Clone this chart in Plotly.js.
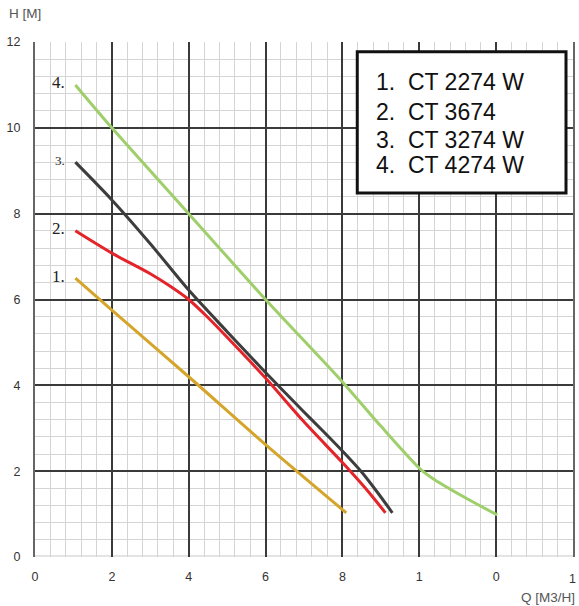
<!DOCTYPE html>
<html>
<head>
<meta charset="utf-8">
<script src="https://cdn.plot.ly/plotly-3.0.1.min.js"></script>
<style>
  html, body { margin: 0; padding: 0; background: #fff; }
  #chart { width: 579px; height: 606px; }
</style>
</head>
<body>
<div id="chart"></div>
<script>
// pump curves, H [M] vs Q [M3/H]
var names = ['CT 2274 W', 'CT 3674', 'CT 3274 W', 'CT 4274 W'];
var curveLabels = ['1.', '2.', '3.', '4.'];

var q1 = [1.05, 2, 4, 6, 8.1];
var h1 = [6.5, 5.75, 4.2, 2.62, 1.03];

var q2 = [1.05, 2, 3, 3.5, 4, 4.5, 5, 6, 7, 8, 8.6, 9.12];
var h2 = [7.6, 7.08, 6.6, 6.32, 6.0, 5.58, 5.12, 4.17, 3.15, 2.2, 1.6, 1.03];

var q3 = [1.05, 2, 3, 4, 5, 6, 7, 7.5, 8, 8.5, 8.9, 9.3];
var h3 = [9.2, 8.32, 7.3, 6.22, 5.25, 4.3, 3.38, 2.93, 2.47, 1.98, 1.52, 1.03];

var q4 = [1.05, 2, 4, 6, 8, 9, 10.05, 10.4, 11.2, 12.03];
var h4 = [11.0, 10.0, 8.0, 6.0, 4.08, 3.05, 2.03, 1.8, 1.38, 0.98];

var xTickVals = [0, 2, 4, 6, 8, 10, 12, 14];
var xTickText = ['0', '2', '4', '6', '8', '1', '0', '1'];
var yTickVals = [0, 2, 4, 6, 8, 10, 12];

var colors = ['#d4a52a', '#e3242b', '#3d3d3d', '#9fcf6a'];
var qs = [q1, q2, q3, q4];
var hs = [h1, h2, h3, h4];

var data = [];
for (var i = 0; i < qs.length; i++) {
    data.push({
        type: 'scatter',
        mode: 'lines',
        x: qs[i],
        y: hs[i],
        name: names[i],
        line: { color: colors[i], width: 3, shape: 'spline', smoothing: 0.8 },
        hoverinfo: 'skip'
    });
}

var annotations = [];
// number labels beside the start of each curve
for (var i = 0; i < qs.length; i++) {
    annotations.push({
        x: qs[i][0], y: hs[i][0], xref: 'x', yref: 'y',
        text: curveLabels[i], showarrow: false,
        xanchor: 'right', yanchor: 'middle', xshift: -8, yshift: 2,
        font: { family: 'Liberation Serif, DejaVu Serif, serif', size: i == 2 ? 13 : 17, color: '#222' }
    });
}
// legend box text
var legendY = [0.922, 0.864, 0.810, 0.761];
for (var i = 0; i < names.length; i++) {
    annotations.push({
        x: 0.631, y: legendY[i], xref: 'paper', yref: 'paper',
        text: curveLabels[i] + '&nbsp;&nbsp;' + names[i], showarrow: false,
        xanchor: 'left', yanchor: 'middle',
        font: { family: 'Liberation Sans, Arial, sans-serif', size: 23, color: '#111' }
    });
}
annotations.push({
    x: -0.052, y: 1.055, xref: 'paper', yref: 'paper', text: 'H [M]', showarrow: false,
    xanchor: 'left', yanchor: 'middle',
    font: { family: 'Liberation Sans, Arial, sans-serif', size: 13.5, color: '#555' }
});
annotations.push({
    x: 1.007, y: -0.078, xref: 'paper', yref: 'paper', text: 'Q [M3/H]', showarrow: false,
    xanchor: 'right', yanchor: 'middle',
    font: { family: 'Liberation Sans, Arial, sans-serif', size: 13.5, color: '#555' }
});
// the axis drops its last tick label at the right edge, so that one is placed on the axis value here
var last = xTickVals.length - 1;
annotations.push({
    x: xTickVals[last], y: 0, xref: 'x', yref: 'paper', text: xTickText[last],
    showarrow: false, xanchor: 'center', yanchor: 'top', yshift: -13,
    font: { family: 'Liberation Sans, Arial, sans-serif', size: 12.5, color: '#333' }
});

var layout = {
    width: 579, height: 606,
    margin: { l: 35, r: 6, t: 42, b: 49 },
    paper_bgcolor: '#fff',
    plot_bgcolor: '#fff',
    showlegend: false,
    font: { family: 'Liberation Sans, Arial, sans-serif', size: 12.5, color: '#333' },
    xaxis: {
        range: [0, 14.001], tickmode: 'array', tickvals: xTickVals.slice(0, last),
        ticktext: xTickText.slice(0, last),
        showgrid: true, gridcolor: '#3a3a3a', gridwidth: 2, zeroline: false,
        showline: false, ticks: '', ticklabelstandoff: 10,
        minor: { tickmode: 'linear', tick0: 0, dtick: 0.4, showgrid: true, gridcolor: '#d4d4d4', gridwidth: 1 }
    },
    yaxis: {
        range: [0, 12], tickmode: 'array', tickvals: yTickVals,
        showgrid: true, gridcolor: '#3a3a3a', gridwidth: 2, zeroline: false,
        showline: true, linecolor: '#666', linewidth: 2, mirror: true, ticks: '', ticklabelstandoff: 10,
        minor: { tickmode: 'linear', tick0: 0, dtick: 0.4, showgrid: true, gridcolor: '#d4d4d4', gridwidth: 1 }
    },
    shapes: [
        // bottom edge of the sheet is a light line, not a major one
        { type: 'line', xref: 'paper', yref: 'paper', x0: 0, x1: 1, y0: 0, y1: 0,
          line: { color: '#fff', width: 3 }, layer: 'between' },
        { type: 'line', xref: 'paper', yref: 'paper', x0: 0, x1: 1, y0: 0.002, y1: 0.002,
          line: { color: '#c8c8c8', width: 1 }, layer: 'between' },
        { type: 'rect', xref: 'paper', yref: 'paper',
          x0: 0.599, x1: 0.987, y0: 0.707, y1: 0.981,
          fillcolor: '#fff', line: { color: '#111', width: 3 }, layer: 'above' }
    ],
    annotations: annotations
};

Plotly.newPlot('chart', data, layout, { displayModeBar: false, staticPlot: true });
</script>
</body>
</html>
